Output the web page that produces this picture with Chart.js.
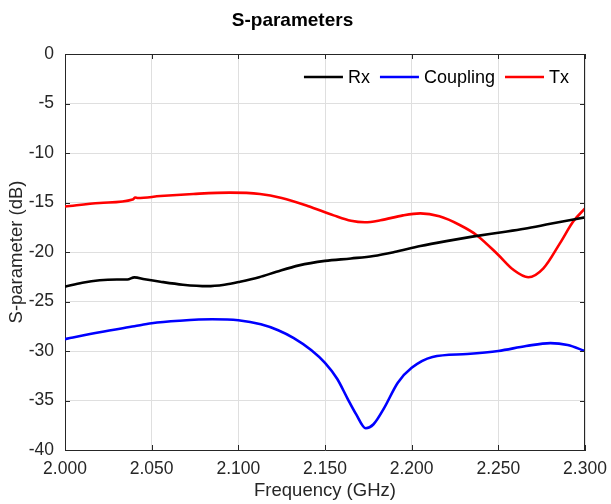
<!DOCTYPE html>
<html>
<head>
<meta charset="utf-8">
<script src="https://cdn.jsdelivr.net/npm/chart.js@4/dist/chart.umd.min.js"></script>
<style>
html,body{margin:0;padding:0;background:#fff;}
canvas{display:block;}
</style>
</head>
<body>
<canvas id="c" width="611" height="504"></canvas>
<script>
const FONT = '"Liberation Sans", Arial, Helvetica, sans-serif';

const seriesNames = ['Rx', 'Coupling', 'Tx'];
const seriesColors = ['#000000', '#0000ff', '#ff0000'];

const rxFreq = [2.000, 2.010, 2.020, 2.030, 2.036, 2.040, 2.046, 2.055, 2.068, 2.082, 2.092, 2.101, 2.112, 2.122, 2.135, 2.150, 2.165, 2.178, 2.190, 2.205, 2.220, 2.235, 2.250, 2.265, 2.280, 2.300];
const rxDb   = [-23.5, -23.1, -22.85, -22.78, -22.78, -22.56, -22.75, -23.0, -23.3, -23.45, -23.3, -23.0, -22.55, -22.0, -21.35, -20.9, -20.65, -20.4, -20.0, -19.4, -18.9, -18.45, -18.05, -17.65, -17.15, -16.5];

const cplFreq = [2.000, 2.020, 2.040, 2.050, 2.066, 2.085, 2.100, 2.113, 2.123, 2.132, 2.142, 2.150, 2.157, 2.163, 2.168, 2.1735, 2.178, 2.184, 2.192, 2.200, 2.212, 2.232, 2.250, 2.266, 2.280, 2.290, 2.300];
const cplDb   = [-28.8, -28.1, -27.5, -27.2, -26.95, -26.8, -26.9, -27.3, -27.9, -28.7, -29.9, -31.2, -32.8, -34.8, -36.4, -37.8, -37.4, -35.8, -33.2, -31.7, -30.6, -30.3, -30.0, -29.5, -29.2, -29.4, -30.0];

const txFreq = [2.000, 2.020, 2.039, 2.0405, 2.042, 2.055, 2.074, 2.095, 2.1125, 2.125, 2.140, 2.155, 2.165, 2.173, 2.182, 2.195, 2.205, 2.216, 2.228, 2.2375, 2.250, 2.2587, 2.2673, 2.276, 2.2856, 2.2933, 2.300];
const txDb   = [-15.4, -15.05, -14.7, -14.5, -14.55, -14.35, -14.14, -14.0, -14.14, -14.55, -15.35, -16.3, -16.85, -17.0, -16.8, -16.3, -16.1, -16.4, -17.3, -18.3, -20.3, -21.8, -22.55, -21.65, -19.1, -16.9, -15.6];

const xTickMin = 2.0, xTickMax = 2.3, xTickStep = 0.05;
const yTickMin = -40, yTickMax = 0, yTickStep = 5;

function pts(xs, ys) { return xs.map((x, i) => ({x: x, y: ys[i]})); }

const AXIS_COLOR = '#262626';
const GRID_COLOR = '#dfdfdf';

const boxPlugin = {
  id: 'boxPlugin',
  afterDraw(chart) {
    const {ctx, chartArea: a, scales} = chart;
    ctx.save();
    ctx.strokeStyle = AXIS_COLOR;
    ctx.lineWidth = 1;
    ctx.beginPath();
    ctx.moveTo(a.left, a.top + 0.5); ctx.lineTo(a.right, a.top + 0.5);
    ctx.moveTo(a.right - 0.5, a.top); ctx.lineTo(a.right - 0.5, a.bottom);
    const tl = 5;
    scales.x.ticks.forEach(t => {
      const px = Math.round(scales.x.getPixelForValue(t.value)) + 0.5;
      ctx.moveTo(px, a.bottom); ctx.lineTo(px, a.bottom - tl);
      ctx.moveTo(px, a.top); ctx.lineTo(px, a.top + tl);
    });
    scales.y.ticks.forEach(t => {
      const py = Math.round(scales.y.getPixelForValue(t.value)) + 0.5;
      ctx.moveTo(a.left, py); ctx.lineTo(a.left + tl, py);
      ctx.moveTo(a.right, py); ctx.lineTo(a.right - tl, py);
    });
    ctx.stroke();

    // legend inside the plot, top-right
    ctx.font = '18px ' + FONT;
    ctx.textBaseline = 'middle';
    ctx.fillStyle = '#000';
    const lineLen = 39, gapLT = 5, gapItem = 10;
    const y = a.top + 23;
    let widths = seriesNames.map(n => ctx.measureText(n).width);
    let total = 0;
    widths.forEach((w, i) => { total += lineLen + gapLT + w + (i < widths.length - 1 ? gapItem : 0); });
    let x = a.right - 16 - total;
    seriesNames.forEach((n, i) => {
      ctx.strokeStyle = seriesColors[i];
      ctx.lineWidth = 2.5;
      ctx.beginPath();
      ctx.moveTo(x, y); ctx.lineTo(x + lineLen, y);
      ctx.stroke();
      x += lineLen + gapLT;
      ctx.fillText(n, x, y + 1);
      x += widths[i] + gapItem;
    });
    ctx.restore();
  }
};

const chart = new Chart(document.getElementById('c'), {
  type: 'line',
  data: {
    datasets: [
      {label: seriesNames[0], data: pts(rxFreq, rxDb), borderColor: seriesColors[0]},
      {label: seriesNames[1], data: pts(cplFreq, cplDb), borderColor: seriesColors[1]},
      {label: seriesNames[2], data: pts(txFreq, txDb), borderColor: seriesColors[2]}
    ].map(d => Object.assign(d, {borderWidth: 2.6, pointRadius: 0, fill: false, cubicInterpolationMode: 'monotone'}))
  },
  options: {
    responsive: false,
    animation: false,
    devicePixelRatio: 1,
    layout: {padding: {left: 0, right: 26, top: 0, bottom: 0}},
    plugins: {
      legend: {display: false},
      tooltip: {enabled: false},
      title: {
        display: true,
        text: 'S-parameters',
        color: '#000',
        font: {family: FONT, size: 19, weight: 'bold'},
        padding: {top: 9, bottom: 22.2}
      }
    },
    scales: {
      x: {
        type: 'linear',
        min: xTickMin, max: xTickMax,
        ticks: {
          stepSize: xTickStep,
          callback: v => Number(v).toFixed(3),
          color: AXIS_COLOR,
          font: {family: FONT, size: 17.5},
          padding: 9,
          maxRotation: 0,
          autoSkip: false
        },
        grid: {color: GRID_COLOR, drawTicks: false},
        border: {color: AXIS_COLOR, width: 1},
        title: {
          display: true,
          text: 'Frequency (GHz)',
          color: AXIS_COLOR,
          font: {family: FONT, size: 18.5},
          padding: {top: 0, bottom: 1.5}
        },
        afterFit: s => { s.height = 54; s.paddingRight = 0; s.paddingLeft = 0; }
      },
      y: {
        type: 'linear',
        min: yTickMin, max: yTickMax,
        ticks: {
          stepSize: yTickStep,
          color: AXIS_COLOR,
          font: {family: FONT, size: 17.5},
          padding: 11
        },
        grid: {color: GRID_COLOR, drawTicks: false},
        border: {color: AXIS_COLOR, width: 1},
        title: {
          display: true,
          text: 'S-parameter (dB)',
          color: AXIS_COLOR,
          font: {family: FONT, size: 18.5},
          padding: {top: 6, bottom: 0}
        },
        afterFit: s => { s.width = 65; }
      }
    }
  },
  plugins: [boxPlugin]
});
</script>
</body>
</html>
